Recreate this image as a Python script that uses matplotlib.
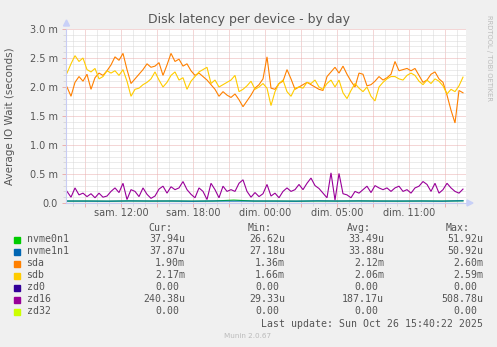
import numpy as np
import matplotlib.pyplot as plt
from matplotlib.patches import Rectangle
from matplotlib.ticker import MultipleLocator, NullFormatter

# one sample every 20 minutes, values in milliseconds
sda = [2.00, 1.84, 2.08, 2.18, 2.10, 2.22, 1.96, 2.16, 2.24, 2.20,
       2.28, 2.38, 2.52, 2.46, 2.58, 2.30, 2.06, 2.14, 2.22, 2.30,
       2.40, 2.34, 2.36, 2.42, 2.20, 2.38, 2.58, 2.44, 2.48, 2.36,
       2.40, 2.28, 2.20, 2.24, 2.18, 2.12, 2.04, 1.96, 1.84, 1.92,
       1.86, 1.82, 1.88, 1.78, 1.66, 1.76, 1.86, 1.98, 2.04, 2.14,
       2.52, 1.98, 1.96, 2.06, 2.10, 2.30, 2.14, 1.96, 2.00, 2.04,
       2.08, 2.04, 2.00, 1.96, 1.94, 2.18, 2.26, 2.34, 2.24, 2.36,
       2.22, 2.10, 2.00, 2.24, 2.22, 2.02, 2.04, 2.10, 2.18, 2.12,
       2.16, 2.22, 2.44, 2.28, 2.30, 2.32, 2.28, 2.32, 2.20, 2.08,
       2.12, 2.22, 2.26, 2.14, 2.08, 1.86, 1.60, 1.38, 1.94, 1.90]

sdb = [2.24, 2.40, 2.54, 2.44, 2.50, 2.30, 2.26, 2.32, 2.14, 2.18,
       2.28, 2.24, 2.28, 2.20, 2.30, 2.10, 1.84, 1.96, 1.98, 2.04,
       2.08, 2.14, 2.26, 2.12, 2.00, 2.08, 2.20, 2.26, 2.12, 2.16,
       1.96, 2.10, 2.18, 2.26, 2.30, 2.34, 2.06, 2.12, 2.00, 2.04,
       2.08, 2.12, 2.20, 1.92, 1.96, 2.02, 2.10, 1.96, 2.00, 2.06,
       1.98, 1.68, 1.92, 2.06, 2.12, 1.92, 1.84, 1.98, 2.00, 1.98,
       2.08, 2.06, 2.12, 2.00, 1.96, 2.06, 2.12, 2.00, 2.12, 1.90,
       1.80, 1.94, 2.06, 1.98, 1.92, 2.00, 1.84, 1.76, 2.00, 2.08,
       2.14, 2.18, 2.18, 2.14, 2.12, 2.20, 2.24, 2.20, 2.10, 2.04,
       2.12, 2.06, 2.14, 2.10, 2.02, 1.88, 1.96, 1.92, 2.02, 2.17]

zd16 = [0.20, 0.10, 0.26, 0.14, 0.17, 0.11, 0.16, 0.09, 0.17, 0.10,
        0.12, 0.20, 0.26, 0.18, 0.34, 0.06, 0.23, 0.20, 0.11, 0.26,
        0.15, 0.08, 0.12, 0.24, 0.29, 0.17, 0.28, 0.23, 0.26, 0.37,
        0.23, 0.15, 0.09, 0.26, 0.20, 0.06, 0.34, 0.23, 0.09, 0.29,
        0.20, 0.23, 0.20, 0.34, 0.40, 0.20, 0.10, 0.18, 0.11, 0.16,
        0.32, 0.12, 0.17, 0.09, 0.20, 0.26, 0.20, 0.23, 0.32, 0.23,
        0.34, 0.43, 0.30, 0.25, 0.17, 0.09, 0.52, 0.05, 0.51, 0.16,
        0.14, 0.09, 0.20, 0.17, 0.23, 0.29, 0.18, 0.30, 0.26, 0.23,
        0.26, 0.20, 0.26, 0.29, 0.20, 0.23, 0.17, 0.26, 0.29, 0.37,
        0.32, 0.20, 0.34, 0.17, 0.23, 0.34, 0.26, 0.20, 0.17, 0.24]

nvme0n1 = [0.033, 0.034, 0.031, 0.036, 0.033, 0.035, 0.032, 0.034, 0.050, 0.033,
           0.034, 0.031, 0.035, 0.033, 0.036, 0.034, 0.032, 0.035, 0.033, 0.038]
nvme1n1 = [0.034, 0.033, 0.032, 0.035, 0.034, 0.034, 0.031, 0.035, 0.033, 0.034,
           0.033, 0.032, 0.036, 0.034, 0.035, 0.033, 0.034, 0.034, 0.032, 0.038]
zd0 = [0.0, 0.0]
zd32 = [0.0, 0.0]

names = ['nvme0n1', 'nvme1n1', 'sda', 'sdb', 'zd0', 'zd16', 'zd32']
colors = ['#00CC00', '#0066B3', '#FF8000', '#FFCC00', '#330099', '#990099', '#CCFF00']
series = [nvme0n1, nvme1n1, sda, sdb, zd0, zd16, zd32]
cur = ['37.94u', '37.87u', '1.90m', '2.17m', '0.00', '240.38u', '0.00']
vmin = ['26.62u', '27.18u', '1.36m', '1.66m', '0.00', '29.33u', '0.00']
vavg = ['33.49u', '33.88u', '2.12m', '2.06m', '0.00', '187.17u', '0.00']
vmax = ['51.92u', '50.92u', '2.60m', '2.59m', '0.00', '508.78u', '0.00']

tick_hours = [4.5, 10.5, 16.5, 22.5, 28.5]
tick_labels = ['sam. 12:00', 'sam. 18:00', 'dim. 00:00', 'dim. 05:00', 'dim. 11:00']

W, H = 497, 347
TXT = '#555555'
MAJ = '#EAAFAF'
MIN = '#D8D8D8'


def fx(px):
    return px / W


def fy(py):
    return 1 - py / H


fig = plt.figure(figsize=(W / 100, H / 100), dpi=100, facecolor='#F0F0F0')
ax = fig.add_axes([fx(66), fy(203), 400 / W, 174 / H])
ax.set_facecolor('white')

for vals, c in zip(series, colors):
    t = np.linspace(0, 33.0, len(vals))
    ax.plot(t, vals, color=c, lw=0.8, solid_joinstyle='miter')

ax.set_xlim(-1 / 12, 33.25)
ax.set_ylim(0, 3.0)

ax.xaxis.set_major_locator(MultipleLocator(3, offset=1.5))
ax.xaxis.set_minor_locator(MultipleLocator(1, offset=0.5))
ax.yaxis.set_minor_locator(MultipleLocator(0.1))
ax.xaxis.set_major_formatter(NullFormatter())
ax.grid(which='major', color=MAJ, lw=0.72, ls=(0, (1, 1)))
ax.grid(which='minor', color=MIN, lw=0.72, ls=(0, (1, 1)))
ax.set_axisbelow(True)

ax.set_yticks([0, 0.5, 1.0, 1.5, 2.0, 2.5, 3.0])
ax.set_yticklabels(['0.0', '0.5 m', '1.0 m', '1.5 m', '2.0 m', '2.5 m', '3.0 m'])
ax.tick_params(which='major', length=3, width=0.7, color=MAJ, labelsize=7,
               labelcolor=TXT, pad=3)
ax.tick_params(which='minor', length=2, width=0.7, color=MIN)

# x labels every 6 hours, under the major ticks
for h, lab in zip(tick_hours, tick_labels):
    ax.text(h, -0.03, lab, transform=ax.get_xaxis_transform(), ha='center',
            va='top', fontsize=7, color=TXT)

for s in ['top', 'right']:
    ax.spines[s].set_visible(False)
for s in ['left', 'bottom']:
    ax.spines[s].set_color('#C8CCF4')
    ax.spines[s].set_linewidth(0.8)

# axis arrows
fig.add_artist(plt.Polygon([[fx(63.5), fy(26)], [fx(69.5), fy(26)], [fx(66.5), fy(20)]],
                           closed=True, color='#C8D0F8', transform=fig.transFigure))
fig.add_artist(plt.Polygon([[fx(467), fy(200)], [fx(467), fy(206)], [fx(473), fy(203)]],
                           closed=True, color='#C8D0F8', transform=fig.transFigure))

fig.text(fx(248.5), fy(19), 'Disk latency per device - by day', ha='center',
         va='center', fontsize=9, color=TXT)
fig.text(fx(10), fy(116), 'Average IO Wait (seconds)', rotation=90, ha='center',
         va='center', fontsize=7.5, color=TXT)
fig.text(fx(489), fy(15), 'RRDTOOL / TOBI OETIKER', rotation=270, ha='center',
         va='top', fontsize=4.9, color='#BBBBBB')

# legend table
mono = 'DejaVu Sans Mono'
fs = 7.1
for lab, xe in zip(['Cur:', 'Min:', 'Avg:', 'Max:'], [172, 272, 371, 470]):
    fig.text(fx(xe), fy(228), lab, ha='right', va='center', family=mono,
             fontsize=fs, color=TXT)

col_end = [185, 285, 384, 483]
for i, name in enumerate(names):
    y = 239.5 + 12 * i
    fig.add_artist(Rectangle((fx(14), fy(y + 3)), 6 / W, 6 / H, color=colors[i],
                             transform=fig.transFigure))
    fig.text(fx(26.5), fy(y), name, ha='left', va='center', family=mono,
             fontsize=fs, color=TXT)
    for col, xe in zip([cur, vmin, vavg, vmax], col_end):
        v = col[i]
        shift = 0 if v[-1] in 'um' else 6
        fig.text(fx(xe - shift), fy(y), v, ha='right', va='center', family=mono,
                 fontsize=fs, color=TXT)

fig.text(fx(483), fy(323.7), 'Last update: Sun Oct 26 15:40:22 2025', ha='right',
         va='center', family=mono, fontsize=fs, color=TXT)
fig.text(fx(248), fy(335.7), 'Munin 2.0.67', ha='center', va='center',
         fontsize=5.2, color='#BBBBBB')

fig.savefig('out.png', dpi=100, facecolor=fig.get_facecolor())
